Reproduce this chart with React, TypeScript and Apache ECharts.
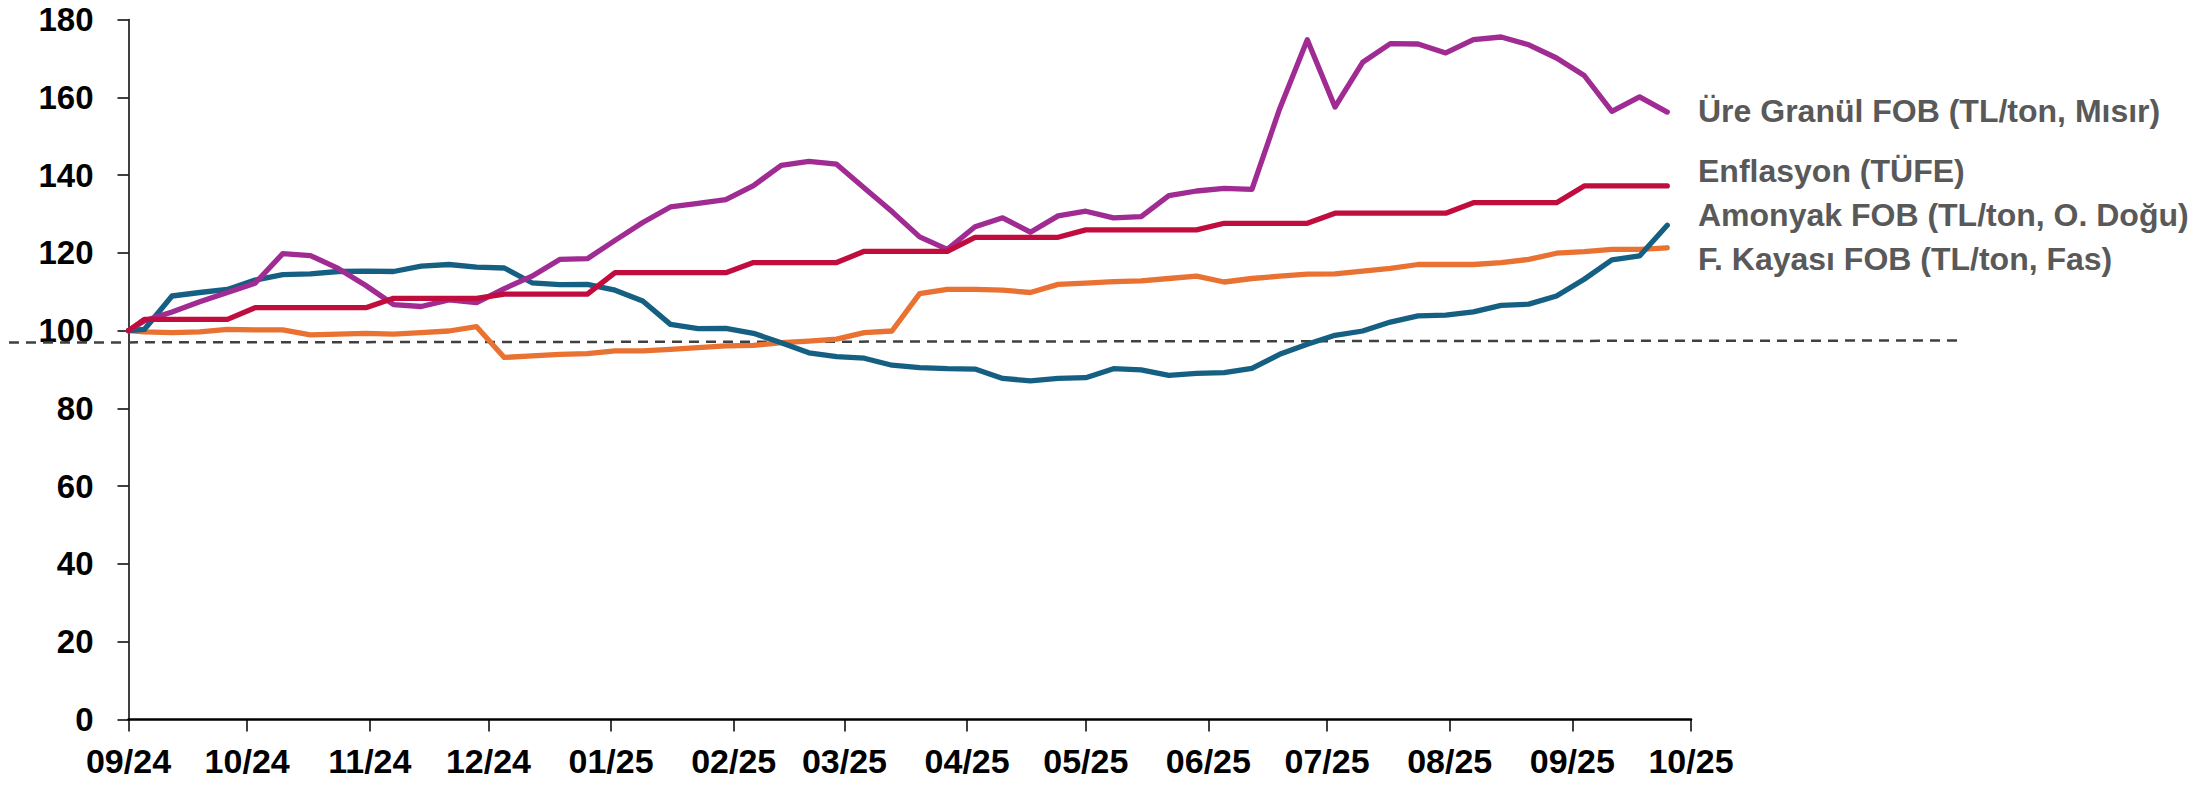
import React, { useEffect, useRef } from "react";
import * as echarts from "echarts";

// Weekly observation dates (first point = base date, index 100)
const dates = [
  "2024-09-01", "2024-09-05", "2024-09-12", "2024-09-19", "2024-09-26",
  "2024-10-03", "2024-10-10", "2024-10-17", "2024-10-24", "2024-10-31",
  "2024-11-07", "2024-11-14", "2024-11-21", "2024-11-28",
  "2024-12-05", "2024-12-12", "2024-12-19", "2024-12-26",
  "2025-01-02", "2025-01-09", "2025-01-16", "2025-01-23", "2025-01-30",
  "2025-02-06", "2025-02-13", "2025-02-20", "2025-02-27",
  "2025-03-06", "2025-03-13", "2025-03-20", "2025-03-27",
  "2025-04-03", "2025-04-10", "2025-04-17", "2025-04-24",
  "2025-05-01", "2025-05-08", "2025-05-15", "2025-05-22", "2025-05-29",
  "2025-06-05", "2025-06-12", "2025-06-19", "2025-06-26",
  "2025-07-03", "2025-07-10", "2025-07-17", "2025-07-24", "2025-07-31",
  "2025-08-07", "2025-08-14", "2025-08-21", "2025-08-28",
  "2025-09-04", "2025-09-11", "2025-09-18", "2025-09-25",
];

const ureGranul = [
  100, 102.5, 104.8, 107.4, 109.8, 112.2, 119.8, 119.3, 116.0, 111.6,
  106.7, 106.2, 107.9, 107.2, 110.8, 114.0, 118.3, 118.5, 123.2, 127.8,
  131.8, 132.7, 133.7, 137.3, 142.5, 143.5, 142.8, 136.7, 130.6, 124.1,
  120.9, 126.7, 129.0, 125.3, 129.5, 130.7, 129.0, 129.3, 134.7, 135.9,
  136.6, 136.3, 157.0, 174.8, 157.5, 169.0, 173.8, 173.7, 171.4, 174.8,
  175.5, 173.5, 170.1, 165.6, 156.4, 160.1, 156.2,
];

const enflasyon = [
  100, 102.9, 102.9, 102.9, 102.9, 105.9, 105.9, 105.9, 105.9, 105.9,
  108.3, 108.3, 108.3, 108.3, 109.4, 109.4, 109.4, 109.4, 114.9, 114.9,
  114.9, 114.9, 114.9, 117.5, 117.5, 117.5, 117.5, 120.4, 120.4, 120.4,
  120.4, 124.0, 124.0, 124.0, 124.0, 125.9, 125.9, 125.9, 125.9, 125.9,
  127.6, 127.6, 127.6, 127.6, 130.2, 130.2, 130.2, 130.2, 130.2, 132.9,
  132.9, 132.9, 132.9, 137.2, 137.2, 137.2, 137.2,
];

const amonyak = [
  100, 100.3, 108.9, 109.8, 110.6, 113.0, 114.4, 114.6, 115.2, 115.3,
  115.2, 116.6, 117.0, 116.3, 116.1, 112.3, 111.8, 111.9, 110.4, 107.6,
  101.6, 100.5, 100.6, 99.3, 96.9, 94.3, 93.3, 92.9, 91.1, 90.5,
  90.2, 90.1, 87.7, 87.1, 87.7, 87.9, 90.2, 89.9, 88.5, 89.0,
  89.2, 90.3, 93.9, 96.5, 98.8, 99.9, 102.2, 103.8, 104.0, 104.8,
  106.5, 106.8, 108.9, 113.2, 118.2, 119.2, 127.1,
];

const fosfatKayasi = [
  100, 99.7, 99.5, 99.7, 100.3, 100.2, 100.2, 98.9, 99.1, 99.3,
  99.1, 99.5, 99.9, 101.0, 93.1, 93.5, 93.9, 94.1, 94.8, 94.8,
  95.2, 95.6, 96.1, 96.2, 96.9, 97.3, 97.8, 99.5, 99.9, 109.5,
  110.6, 110.6, 110.4, 109.8, 111.9, 112.2, 112.6, 112.8, 113.4, 114.0,
  112.5, 113.4, 114.0, 114.5, 114.6, 115.3, 116.0, 117.0, 117.0, 117.0,
  117.5, 118.3, 119.9, 120.3, 120.9, 120.9, 121.3,
];

const seriesNames = [
  "Üre Granül FOB (TL/ton, Mısır)",
  "Enflasyon (TÜFE)",
  "Amonyak FOB (TL/ton, O. Doğu)",
  "F. Kayası FOB (TL/ton, Fas)",
];

const referenceLevel = 97.2;

const COLORS = {
  ure: "#A02B93",
  enf: "#C00D3E",
  amo: "#156082",
  fos: "#E97132",
};

const FONT = "'Liberation Sans', Arial, Helvetica, sans-serif";

function toPairs(vals: number[]) {
  return dates.map((d, i) => [d, vals[i]]);
}

export default function App() {
  const ref = useRef<HTMLDivElement | null>(null);

  useEffect(() => {
    if (!ref.current) return;
    const chart = echarts.init(ref.current, undefined, { renderer: "svg" });

    const lineSeries = (name: string, vals: number[], color: string, z: number) => ({
      name,
      type: "line",
      data: toPairs(vals),
      showSymbol: false,
      symbol: "none",
      z,
      lineStyle: { color, width: 5.3, join: "round", cap: "round" },
      itemStyle: { color },
    });

    const option: any = {
      animation: false,
      backgroundColor: "#ffffff",
      grid: { left: 128.5, right: 519, top: 19.5, bottom: 66.5, containLabel: false },
      xAxis: {
        type: "time",
        min: new Date(2024, 8, 1).getTime(),
        max: new Date(2025, 9, 1).getTime(),
        splitNumber: 13,
        minInterval: 28 * 86400000,
        maxInterval: 31 * 86400000,
        axisLine: { show: true, lineStyle: { color: "#000", width: 2.5 } },
        axisTick: { show: true, length: 12, lineStyle: { color: "#000", width: 1.5 } },
        splitLine: { show: false },
        axisLabel: {
          show: true,
          margin: 24,
          fontFamily: FONT,
          fontWeight: "bold",
          fontSize: 34,
          color: "#000",
          showMinLabel: true,
          showMaxLabel: true,
          hideOverlap: false,
          formatter: (val: number) => {
            const d = new Date(val);
            const mm = String(d.getMonth() + 1).padStart(2, "0");
            const yy = String(d.getFullYear() % 100).padStart(2, "0");
            return `${mm}/${yy}`;
          },
        },
      },
      yAxis: {
        type: "value",
        min: 0,
        max: 180,
        interval: 20,
        axisLine: { show: true, lineStyle: { color: "#000", width: 1.5 } },
        axisTick: { show: true, length: 11, lineStyle: { color: "#000", width: 1.5 } },
        splitLine: { show: false },
        axisLabel: {
          margin: 35,
          fontFamily: FONT,
          fontWeight: "bold",
          fontSize: 33,
          color: "#000",
        },
      },
      series: [
        lineSeries(seriesNames[3], fosfatKayasi, COLORS.fos, 2),
        lineSeries(seriesNames[2], amonyak, COLORS.amo, 3),
        lineSeries(seriesNames[0], ureGranul, COLORS.ure, 4),
        lineSeries(seriesNames[1], enflasyon, COLORS.enf, 5),
      ],
    };

    chart.setOption(option);

    const yRef = chart.convertToPixel({ yAxisIndex: 0 }, referenceLevel) as number;

    const labelY = [110.5, 171.3, 214.5, 258.8];
    const texts = seriesNames.map((t, i) => ({
      type: "text",
      x: 1698,
      y: labelY[i],
      z: 10,
      style: {
        text: t,
        fill: "#595959",
        font: `bold 32px ${FONT}`,
        textAlign: "left",
        textVerticalAlign: "middle",
      },
    }));

    chart.setOption({
      graphic: [
        {
          type: "line",
          z: 1,
          shape: { x1: 9, y1: yRef + 1, x2: 1960, y2: yRef - 1 },
          style: { stroke: "#404040", lineWidth: 2.5, lineDash: [10, 7] },
        },
        ...texts,
      ],
    });

    return () => {
      chart.dispose();
    };
  }, []);

  return (
    <div
      ref={ref}
      style={{ position: "absolute", left: 0, top: 0, width: 2210, height: 786 }}
    />
  );
}
